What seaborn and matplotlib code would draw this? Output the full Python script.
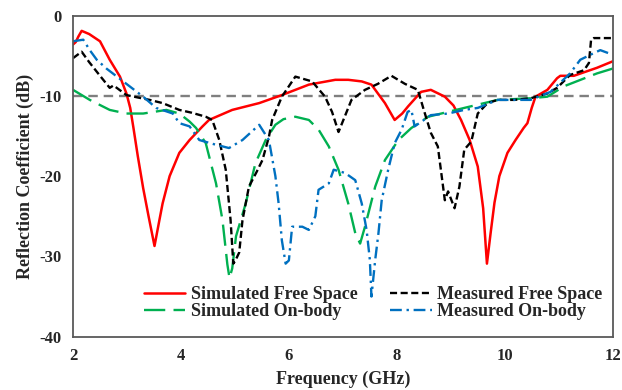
import numpy as np
import pandas as pd
import matplotlib
matplotlib.use("Agg")
import matplotlib.pyplot as plt
import seaborn as sns

# Simulated free space (red, solid)
sim_fs_freq = [2.0, 2.05, 2.1, 2.16, 2.3, 2.5, 2.68, 2.87, 2.99, 3.06, 3.12, 3.2, 3.3, 3.4,
               3.51, 3.6, 3.66, 3.79, 3.97, 4.16, 4.4, 4.52, 4.95, 5.45, 5.87, 6.37, 6.86,
               7.1, 7.35, 7.53, 7.78, 7.96, 8.1, 8.21, 8.45, 8.63, 8.89, 9.05, 9.19, 9.35,
               9.5, 9.6, 9.67, 9.74, 9.81, 9.9, 10.05, 10.2, 10.35, 10.42, 10.5, 10.57,
               10.79, 10.97, 11.03, 11.28, 11.71, 12.0]
sim_fs_db = [-3.6, -3.3, -2.6, -1.9, -2.3, -3.2, -5.5, -7.6, -9.7, -11.5, -14.0, -17.5, -21.5,
             -25.0, -28.7, -25.5, -23.4, -20.0, -17.1, -15.5, -13.8, -13.0, -11.75, -10.9,
             -9.9, -8.6, -8.0, -8.0, -8.2, -8.6, -10.9, -13.0, -12.2, -11.3, -9.5, -9.25,
             -10.1, -11.2, -13.0, -15.5, -18.8, -24.0, -30.9, -27.0, -23.3, -20.0, -17.1,
             -15.5, -14.0, -13.4, -11.5, -10.1, -9.25, -7.8, -7.5, -7.5, -6.5, -5.7]

# Measured free space (black, dashed)
meas_fs_freq = [2.0, 2.16, 2.3, 2.5, 2.68, 2.75, 2.99, 3.2, 3.42, 3.66, 3.97, 4.2, 4.46, 4.58,
                4.71, 4.83, 4.92, 4.97, 5.01, 5.08, 5.14, 5.26, 5.4, 5.51, 5.63, 5.69, 5.87,
                6.12, 6.43, 6.67, 6.8, 6.92, 7.16, 7.41, 7.65, 7.9, 8.15, 8.39, 8.5, 8.63,
                8.76, 8.89, 8.95, 9.07, 9.16, 9.25, 9.38, 9.5, 9.68, 9.87, 10.18, 10.48,
                10.79, 10.97, 11.21, 11.47, 11.56, 11.6, 11.65, 11.93, 12.0]
meas_fs_db = [-5.3, -4.5, -5.8, -7.5, -9.0, -8.7, -9.9, -10.2, -10.5, -10.9, -11.75, -12.1,
              -12.6, -13.0, -15.5, -19.2, -25.5, -30.9, -30.5, -29.5, -25.5, -21.3, -19.5,
              -18.0, -15.1, -13.0, -10.1, -7.6, -8.2, -10.1, -12.0, -14.5, -10.5, -9.25,
              -8.5, -7.5, -8.5, -9.25, -11.75, -14.6, -16.3, -23.0, -21.9, -24.0, -21.3,
              -16.7, -15.7, -12.2, -10.9, -10.5, -10.5, -10.3, -9.7, -9.0, -7.4, -6.8,
              -5.9, -3.0, -2.8, -2.8, -2.8]

# Simulated on-body (green, long dash)
sim_ob_freq = [2.0, 2.31, 2.68, 2.99, 3.3, 3.73, 3.97, 4.16, 4.28, 4.46, 4.65, 4.77, 4.86,
               4.9, 4.95, 5.02, 5.2, 5.38, 5.57, 5.75, 5.9, 6.12, 6.37, 6.55, 6.74, 6.92,
               7.1, 7.23, 7.32, 7.41, 7.6, 7.78, 8.03, 8.27, 8.58, 9.25, 9.87, 10.48,
               10.79, 11.1, 11.71, 12.0]
sim_ob_db = [-9.25, -10.5, -11.75, -12.2, -12.2, -11.75, -12.2, -13.2, -14.0, -15.9, -20.9,
             -25.5, -31.0, -32.7, -31.5, -27.5, -23.4, -18.4, -15.5, -13.6, -12.9, -12.6,
             -13.0, -14.2, -16.3, -19.2, -23.4, -27.1, -28.4, -26.3, -21.3, -18.0, -15.5,
             -14.0, -12.6, -11.5, -10.5, -10.3, -10.1, -8.8, -7.2, -6.6]

# Measured on-body (blue, dash-dot)
meas_ob_freq = [2.0, 2.19, 2.31, 2.44, 2.62, 2.93, 3.3, 3.54, 3.85, 3.97, 4.16, 4.34, 4.6,
                4.89, 5.14, 5.45, 5.63, 5.75, 5.81, 5.87, 5.94, 6.0, 6.06, 6.25, 6.37, 6.49,
                6.55, 6.74, 6.83, 7.04, 7.23, 7.35, 7.44, 7.5, 7.53, 7.6, 7.66, 7.72, 7.84,
                7.96, 8.09, 8.2, 8.27, 8.33, 8.63, 8.95, 9.25, 9.5, 9.87, 10.48, 10.85,
                11.21, 11.4, 11.58, 11.77, 11.93, 12.0]
meas_ob_db = [-3.2, -3.0, -4.3, -5.5, -6.6, -8.2, -10.1, -11.5, -12.2, -13.4, -13.8, -15.5,
              -16.0, -16.5, -15.5, -13.6, -15.5, -20.0, -23.4, -28.0, -30.9, -30.5, -26.3,
              -26.3, -26.7, -25.0, -21.7, -20.9, -19.2, -19.6, -20.5, -23.4, -26.7, -30.4,
              -35.0, -30.4, -27.1, -23.0, -19.2, -15.9, -14.2, -12.0, -11.75, -13.8, -12.4,
              -12.2, -11.75, -11.5, -10.5, -10.5, -9.5, -7.2, -5.5, -4.9, -4.3, -4.7, -4.7]

threshold_db = -10
x_ticks = [2, 4, 6, 8, 10, 12]
y_ticks = [0, -10, -20, -30, -40]

sns.set_style("white")
plt.rcParams['font.family'] = ['Liberation Serif', 'DejaVu Serif']
plt.rcParams['font.weight'] = 'bold'
plt.rcParams['axes.unicode_minus'] = False

fig = plt.figure(figsize=(6.22, 3.9), dpi=100)
ax = fig.add_axes([0.1174, 0.1367, 0.8676, 0.8233])

ax.axhline(threshold_db, color='#7f7f7f', lw=1.7, linestyle=(0, (4, 2.5)), zorder=1)

sns.lineplot(x=sim_fs_freq, y=sim_fs_db, ax=ax, color='#ff0000', lw=1.8,
             label='Simulated Free Space')
sns.lineplot(x=sim_ob_freq, y=sim_ob_db, ax=ax, color='#00b050', lw=1.7,
             linestyle=(0, (9, 3.5)), label='Simulated On-body')
sns.lineplot(x=meas_fs_freq, y=meas_fs_db, ax=ax, color='#000000', lw=1.7,
             linestyle=(0, (3, 1.5)), label='Measured Free Space')
sns.lineplot(x=meas_ob_freq, y=meas_ob_db, ax=ax, color='#0070c0', lw=1.7,
             linestyle=(0, (5, 2, 1, 2)), label='Measured On-body')

ax.set_xlim(2, 12)
ax.set_ylim(-40, 0)
ax.set_xticks(x_ticks)
ax.set_yticks(y_ticks)
ax.tick_params(length=0, labelsize=12, pad=8)
for sp in ax.spines.values():
    sp.set_color('#595959')
    sp.set_linewidth(1.3)

ax.set_xlabel('Frequency (GHz)', fontsize=13, fontweight='bold', labelpad=5)
ax.set_ylabel('Reflection Coefficient (dB)', fontsize=13, fontweight='bold', labelpad=4)

ax.legend(loc='lower left', bbox_to_anchor=(0.118, 0.029), ncol=2, frameon=False,
          fontsize=13, handlelength=2.3, handletextpad=0.3, columnspacing=1.8,
          labelspacing=0.0, borderaxespad=0)

fig.savefig('out.png', dpi=100)
